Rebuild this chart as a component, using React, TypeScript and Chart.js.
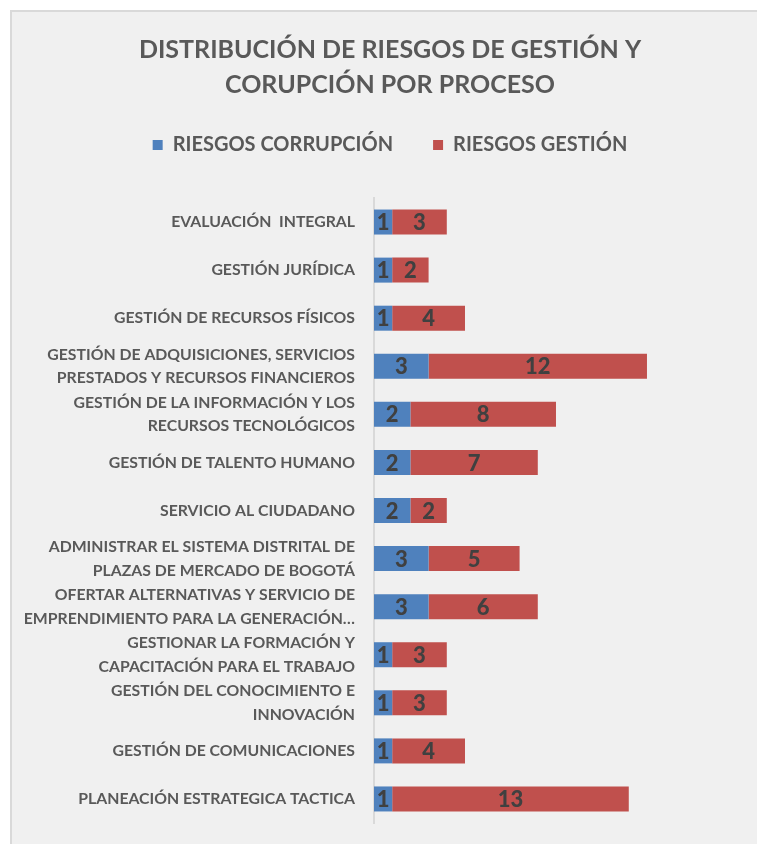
import React, { useEffect, useRef } from "react";
import { Chart, registerables } from "chart.js";

Chart.register(...registerables);

const titleLines = ["DISTRIBUCIÓN DE RIESGOS DE GESTIÓN Y", "CORUPCIÓN POR PROCESO"];
const seriesNames = ["RIESGOS CORRUPCIÓN", "RIESGOS GESTIÓN"];
const categories: (string | string[])[] = [
  "EVALUACIÓN  INTEGRAL",
  "GESTIÓN JURÍDICA",
  "GESTIÓN DE RECURSOS FÍSICOS",
  ["GESTIÓN DE ADQUISICIONES, SERVICIOS", "PRESTADOS Y RECURSOS FINANCIEROS"],
  ["GESTIÓN DE LA INFORMACIÓN Y LOS", "RECURSOS TECNOLÓGICOS"],
  "GESTIÓN DE TALENTO HUMANO",
  "SERVICIO AL CIUDADANO",
  ["ADMINISTRAR EL SISTEMA DISTRITAL DE", "PLAZAS DE MERCADO DE BOGOTÁ"],
  ["OFERTAR ALTERNATIVAS Y SERVICIO DE", "EMPRENDIMIENTO PARA LA GENERACIÓN…"],
  ["GESTIONAR LA FORMACIÓN Y", "CAPACITACIÓN PARA EL TRABAJO"],
  ["GESTIÓN DEL CONOCIMIENTO E", "INNOVACIÓN"],
  "GESTIÓN DE COMUNICACIONES",
  "PLANEACIÓN ESTRATEGICA TACTICA",
];
const corrupcion = [1, 1, 1, 3, 2, 2, 2, 3, 3, 1, 1, 1, 1];
const gestion = [3, 2, 4, 12, 8, 7, 2, 5, 6, 3, 3, 4, 13];

const FONT = "Lato, 'Open Sans', sans-serif";

const barLabels = {
  id: "barLabels",
  afterDatasetsDraw(chart: any) {
    const ctx = chart.ctx;
    ctx.save();
    ctx.font = `900 22px ${FONT}`;
    ctx.fillStyle = "#404040";
    ctx.textAlign = "center";
    ctx.textBaseline = "middle";
    chart.data.datasets.forEach((ds: any, di: number) => {
      const meta = chart.getDatasetMeta(di);
      meta.data.forEach((el: any, i: number) => {
        const v = ds.data[i];
        const cx = (el.x + el.base) / 2;
        ctx.fillText(String(v), cx, el.y + 1);
      });
    });
    ctx.restore();
  },
};

export default function App() {
  const ref = useRef<HTMLCanvasElement>(null);
  useEffect(() => {
    if (!ref.current) return;
    const chart = new Chart(ref.current, {
      type: "bar",
      data: {
        labels: categories as any,
        datasets: [
          {
            label: seriesNames[0],
            data: corrupcion,
            backgroundColor: "#4f81bd",
            barPercentage: 0.52,
            categoryPercentage: 1,
          },
          {
            label: seriesNames[1],
            data: gestion,
            backgroundColor: "#c0504d",
            barPercentage: 0.52,
            categoryPercentage: 1,
          },
        ],
      },
      options: {
        indexAxis: "y",
        animation: false,
        responsive: false,
        devicePixelRatio: 1,
        layout: { padding: { top: 0, left: 0, right: 0, bottom: 29 } },
        plugins: {
          title: {
            display: true,
            text: titleLines,
            color: "#595959",
            font: { family: FONT, size: 25, weight: "bold", lineHeight: 1.4 },
            padding: { top: 20, bottom: -7 },
          },
          legend: {
            display: true,
            position: "top",
            labels: {
              boxWidth: 10,
              boxHeight: 10,
              padding: 40,
              color: "#595959",
              font: { family: FONT, size: 20, weight: "bold" },
            },
          },
          tooltip: { enabled: false },
        },
        scales: {
          x: {
            position: "top",
            stacked: true,
            min: 0,
            max: 21.65,
            grid: { display: false },
            border: { display: false },
            ticks: { display: false },
            afterFit: (scale: any) => {
              scale.height = 33;
            },
          },
          y: {
            stacked: true,
            grid: { display: false },
            border: { display: true, color: "#d9d9d9", width: 2 },
            ticks: {
              color: "#595959",
              padding: 11,
              font: { family: FONT, size: 15.8, weight: "bold", lineHeight: 1.5 },
              autoSkip: false,
            },
            afterFit: (scale: any) => {
              scale.width = 362;
            },
          },
        },
      },
      plugins: [barLabels],
    } as any);
    return () => chart.destroy();
  }, []);

  return (
    <div style={{ position: "fixed", inset: 0, overflow: "hidden", background: "#ffffff" }}>
      <div
        style={{
          position: "absolute",
          left: 10,
          top: 10,
          width: 756,
          height: 840,
          background: "#f0f0f0",
          border: "2px solid #d9d9d9",
        }}
      >
        <canvas ref={ref} width={756} height={840} style={{ display: "block", width: 756, height: 840 }} />
      </div>
    </div>
  );
}
